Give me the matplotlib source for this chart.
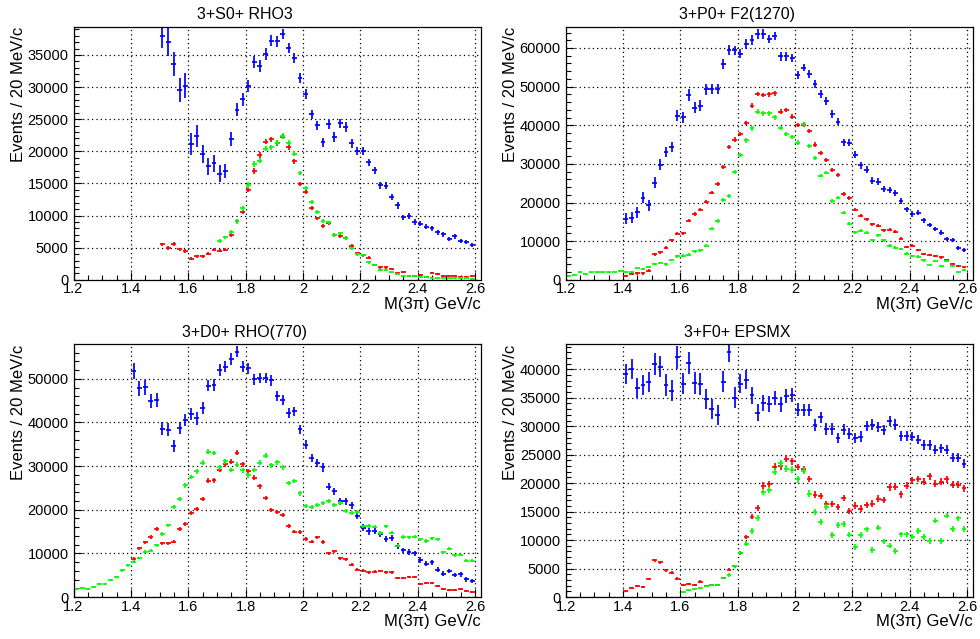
import numpy as np
import matplotlib
matplotlib.use("Agg")
import matplotlib.pyplot as plt
from matplotlib.ticker import MultipleLocator, FixedLocator

plt.rcParams['font.family'] = ['Liberation Sans', 'DejaVu Sans']

# bin centres, 20 MeV bins
def centres(start, stop):
    return np.round(np.arange(start, stop + 0.001, 0.02), 2)

titles = ['3+S0+ RHO3', '3+P0+ F2(1270)', '3+D0+ RHO(770)', '3+F0+ EPSMX']
ytops = [39400, 65500, 57900, 44400]
ymajor = [5000, 10000, 10000, 5000]
yminor = [1000, 2000, 2000, 1000]
xtick_vals = [1.2, 1.4, 1.6, 1.8, 2.0, 2.2, 2.4, 2.6]
xtick_labels = ['1.2', '1.4', '1.6', '1.8', '2', '2.2', '2.4', '2.6']

# ---- 3+S0+ RHO3
blue1_x = centres(1.51, 2.59)
blue1 = [37950, 36970, 33590, 29590, 30220, 21130, 22430, 19570, 17650, 18120,
         16510, 16980, 21910, 26480, 28090, 30170, 33850, 33230, 35150, 37230,
         37120, 38270, 36080, 34580, 31410, 28920, 25750, 24040, 21390, 24190,
         22270, 24350, 23830, 21290, 20040, 20090, 18280, 17030, 14750, 14640,
         12880, 11580, 9710, 9920, 8980, 8720, 8260, 8050, 7370, 7060,
         6330, 6750, 6020, 5870, 5450]
blue1_err = [1900, 2200, 1900, 1900, 1900, 1700, 1700, 1400, 1300, 1300,
             1300, 1100, 1100, 1000, 1000, 1000, 950, 950, 900, 900,
             900, 800, 800, 800, 800, 800, 750, 750, 750, 750,
             750, 750, 750, 700, 650, 650, 600, 600, 550, 550,
             500, 500, 450, 450, 420, 400, 400, 400, 380, 380,
             350, 350, 330, 330, 320]
red1_x = centres(1.51, 2.59)
red1 = [5500, 4980, 5560, 4720, 4470, 3270, 3630, 3690, 4050, 4670,
        4520, 4670, 7010, 9090, 10590, 14020, 16930, 19420, 21490, 21860,
        21290, 22270, 20660, 18430, 14900, 13710, 11210, 9550, 8410, 8830,
        6960, 6800, 6540, 5300, 4150, 3790, 3430, 2280, 1920, 1920,
        1660, 990, 1190, 670, 670, 730, 420, 1090, 880, 570,
        670, 670, 470, 470, 570]
red1_err = [300, 300, 300, 300, 300, 250, 250, 250, 250, 250,
            250, 250, 300, 300, 350, 350, 400, 400, 400, 400,
            400, 400, 400, 400, 350, 350, 350, 300, 300, 300,
            300, 300, 300, 250, 250, 250, 250, 200, 200, 200,
            200, 150, 150, 150, 150, 150, 150, 150, 150, 150,
            150, 150, 150, 150, 150]
green1_x = centres(1.71, 2.59)
green1 = [6070, 6590, 7420, 9090, 11110, 14750, 18020, 18540, 20400, 20660,
          21340, 22380, 21340, 19630, 16610, 14330, 12100, 10540, 9140, 8930,
          7010, 7220, 6540, 4930, 4000, 3840, 2700, 2280, 1560, 1510,
          1140, 880, 620, 620, 570, 420, 420, 310, 360, 310,
          210, 260, 210, 260, 160]
green1_err = [300, 300, 300, 350, 350, 400, 400, 400, 400, 400,
              400, 400, 400, 400, 350, 350, 350, 300, 300, 300,
              300, 300, 300, 250, 250, 250, 200, 200, 200, 200,
              150, 150, 150, 150, 150, 150, 150, 150, 150, 150,
              150, 150, 150, 150, 150]

# ---- 3+P0+ F2(1270)
blue2_x = centres(1.41, 2.59)
blue2 = [15770, 16030, 17500, 21210, 19310, 25170, 29740, 33100, 34390, 42500,
         42070, 47840, 44570, 45080, 49310, 49390, 49310, 55770, 59480, 59390,
         58530, 61030, 62060, 63620, 63620, 62320, 63100, 57840, 57840, 57410,
         52930, 54910, 53270, 50690, 48010, 46290, 42930, 40950, 35600, 35510,
         32330, 29650, 28530, 25690, 25430, 23450, 23270, 22500, 20430, 18270,
         17070, 17410, 15430, 14140, 13190, 12240, 10520, 10340, 8190, 7670]
blue2_err = [1400, 1400, 1400, 1400, 1400, 1400, 1400, 1400, 1400, 1400,
             1400, 1500, 1500, 1400, 1400, 1300, 1300, 1300, 1300, 1200,
             1200, 1200, 1200, 1200, 1200, 1100, 1100, 1100, 1100, 1100,
             1000, 1000, 1000, 1000, 1000, 1000, 950, 950, 900, 900,
             900, 850, 850, 800, 800, 800, 750, 750, 700, 700,
             700, 650, 650, 600, 600, 600, 550, 550, 500, 500]
red2_x = centres(1.41, 2.59)
red2 = [1030, 1470, 1640, 1640, 2410, 6640, 7070, 8360, 10260, 11980,
        12070, 15260, 17070, 18190, 20260, 22580, 24830, 29220, 34390, 36290,
        37760, 40510, 45080, 48100, 47840, 48010, 48270, 43530, 43960, 42240,
        40000, 40170, 38530, 35000, 32930, 31030, 28360, 27150, 22150, 21120,
        18190, 16640, 15690, 14400, 14050, 12840, 13020, 12500, 10690, 8530,
        8880, 7760, 6640, 6380, 6120, 5780, 5170, 4220, 3620, 3190]
red2_err = [300, 300, 300, 300, 300, 350, 350, 350, 400, 400,
            400, 400, 450, 450, 450, 450, 500, 500, 550, 550,
            550, 550, 600, 600, 600, 600, 600, 600, 600, 600,
            550, 550, 550, 550, 500, 500, 500, 500, 450, 450,
            400, 400, 400, 400, 400, 350, 350, 350, 350, 350,
            300, 300, 300, 300, 300, 300, 250, 250, 250, 250]
green2_x = centres(1.21, 2.59)
green2 = [1030, 1290, 1900, 1380, 1900, 1900, 1900, 2070, 2070, 2240,
          2070, 1980, 2930, 2760, 3360, 4050, 4400, 3970, 5170, 6120,
          6210, 6550, 7330, 7670, 8790, 13270, 15260, 20600, 21720, 27840,
          32330, 36120, 39220, 43530, 43100, 43100, 42070, 39220, 37670, 36890,
          35510, 40260, 34570, 31550, 26980, 27760, 20340, 21290, 17330, 14570,
          12330, 12760, 12240, 10340, 11550, 10260, 8790, 8280, 7930, 6810,
          6210, 6030, 5000, 3710, 4830, 3450, 4830, 3620, 1900, 2500]
green2_err = [200, 200, 200, 200, 200, 200, 200, 200, 200, 200,
              250, 250, 250, 250, 300, 300, 300, 300, 300, 350,
              350, 350, 350, 350, 350, 450, 450, 500, 500, 550,
              550, 600, 600, 600, 600, 600, 600, 550, 550, 550,
              550, 550, 550, 500, 500, 500, 450, 450, 400, 400,
              400, 400, 400, 350, 350, 350, 350, 350, 300, 300,
              300, 300, 300, 250, 250, 250, 250, 250, 200, 200]

# ---- 3+D0+ RHO(770)
blue3_x = centres(1.41, 2.59)
blue3 = [51760, 47790, 48020, 44960, 45120, 38550, 38320, 34660, 38780, 40540,
         41990, 40920, 43280, 48400, 48550, 51990, 52750, 54510, 56190, 52750,
         52370, 49850, 50230, 50230, 49620, 45960, 45190, 42140, 42520, 38400,
         34890, 31830, 30770, 29700, 25270, 24200, 21910, 21990, 20990, 18550,
         15880, 15040, 15120, 14430, 13360, 13510, 11760, 10690, 10380, 10000,
         8470, 7630, 7940, 6260, 5340, 5950, 5040, 5190, 4050, 3660]
blue3_err = [1800, 1700, 1700, 1600, 1600, 1500, 1500, 1400, 1400, 1400,
             1400, 1400, 1400, 1300, 1300, 1300, 1300, 1300, 1250, 1250,
             1250, 1200, 1200, 1200, 1200, 1150, 1150, 1100, 1100, 1050,
             1000, 950, 950, 950, 850, 850, 800, 800, 800, 750,
             750, 750, 700, 700, 700, 650, 650, 650, 650, 600,
             600, 600, 600, 550, 550, 550, 550, 500, 500, 500]
red3_x = centres(1.41, 2.59)
red3 = [8780, 11150, 12520, 13820, 15650, 12290, 12290, 12670, 15650, 16790,
        19310, 20230, 22440, 26640, 26720, 29160, 30380, 30990, 33050, 30380,
        28780, 27330, 25340, 22670, 20000, 19470, 18860, 16180, 14960, 14890,
        13280, 12670, 13660, 12600, 10000, 10530, 8930, 8630, 7400, 6260,
        6030, 5650, 5800, 5950, 5650, 5650, 4350, 4430, 4500, 4660,
        3050, 3210, 3280, 2440, 1760, 1680, 1600, 1760, 1450, 1070]
red3_err = [400, 400, 400, 450, 450, 400, 400, 400, 450, 450,
            500, 500, 500, 550, 550, 550, 550, 600, 600, 550,
            550, 550, 500, 500, 500, 450, 450, 450, 400, 400,
            400, 400, 400, 400, 350, 350, 350, 350, 300, 300,
            300, 300, 300, 300, 300, 300, 250, 250, 250, 250,
            250, 250, 250, 200, 200, 200, 200, 200, 200, 200]
green3_x = centres(1.21, 2.59)
green3 = [1830, 2140, 1910, 2370, 2900, 3050, 3890, 4500, 6110, 7250,
          8090, 8930, 10380, 10610, 11830, 14430, 16410, 20610, 22370, 25570,
          27480, 28780, 30770, 33280, 32980, 29700, 31070, 29090, 30310, 29010,
          27860, 29090, 30770, 32370, 30150, 30840, 29700, 26180, 26640, 23740,
          20760, 20610, 21070, 21450, 21910, 21070, 21450, 19770, 19240, 19470,
          16180, 16260, 16110, 14660, 16180, 14730, 11760, 13740, 13660, 13820,
          13210, 12830, 13510, 13210, 10230, 11070, 9540, 9620, 8320, 8320]
green3_err = [200, 200, 200, 200, 200, 250, 250, 250, 300, 300,
              300, 300, 350, 350, 350, 400, 400, 450, 450, 500,
              500, 550, 550, 550, 550, 550, 550, 550, 550, 550,
              550, 550, 550, 550, 550, 550, 550, 500, 500, 500,
              450, 450, 450, 450, 450, 450, 450, 450, 450, 450,
              400, 400, 400, 400, 400, 400, 350, 400, 400, 400,
              350, 350, 350, 350, 350, 350, 300, 300, 300, 300]

# ---- 3+F0+ EPSMX
blue4_x = centres(1.41, 2.59)
blue4 = [39200, 40080, 36680, 37210, 37800, 40960, 40490, 37210, 36270, 42130,
         37500, 41080, 37560, 37390, 34750, 33050, 32000, 37860, 43130, 35040,
         37500, 38210, 35450, 32410, 34050, 33870, 34980, 33870, 35340, 35510,
         32930, 32870, 32820, 30240, 31590, 29530, 29530, 27950, 29360, 28710,
         27950, 28190, 30000, 30300, 29890, 29360, 30940, 30300, 28250, 28250,
         28190, 27660, 26660, 26720, 25900, 26140, 25900, 24490, 24490, 23440]
blue4_err = [1800, 1800, 1800, 1800, 1800, 1900, 1900, 1900, 1900, 2000,
             1900, 1900, 1900, 1900, 1800, 1800, 1800, 1800, 1800, 1800,
             1700, 1600, 1500, 1500, 1400, 1400, 1300, 1300, 1200, 1200,
             1100, 1100, 1100, 1000, 1000, 1000, 1000, 950, 950, 950,
             950, 950, 900, 900, 900, 900, 900, 900, 900, 900,
             850, 850, 850, 850, 850, 800, 800, 800, 800, 800]
red4_x = centres(1.41, 2.59)
red4 = [1050, 1640, 1930, 1820, 3160, 6450, 6090, 4690, 4280, 3220,
        2170, 2290, 2170, 2700, 1990, 2050, 2170, 3340, 4810, 5390,
        7740, 10550, 14120, 15650, 19570, 19870, 22910, 22970, 24320, 23850,
        22850, 22440, 20740, 17990, 17700, 16350, 16350, 15760, 17350, 15120,
        16060, 15530, 16120, 16410, 17290, 17050, 19280, 19400, 18050, 19570,
        20510, 20740, 20280, 21210, 19920, 20280, 20690, 19750, 19750, 19100]
red4_err = [200, 200, 200, 200, 250, 300, 300, 300, 300, 250,
            200, 200, 200, 250, 200, 200, 200, 250, 300, 300,
            350, 400, 450, 500, 550, 550, 600, 600, 600, 600,
            600, 600, 600, 550, 550, 550, 550, 550, 550, 550,
            550, 550, 550, 550, 550, 600, 600, 600, 600, 600,
            600, 600, 600, 600, 600, 650, 650, 650, 650, 650]
green4_x = centres(1.61, 2.59)
green4 = [940, 1230, 1470, 1640, 1880, 2110, 2170, 3340, 3870, 5390,
          7680, 9380, 11600, 13830, 18400, 18810, 21980, 23500, 22560, 22390,
          20690, 22210, 18170, 15000, 13130, 15760, 10960, 12600, 12770, 10960,
          8790, 10840, 11900, 8200, 12190, 9790, 9020, 8090, 11020, 11020,
          10610, 11600, 10550, 9840, 13420, 9840, 14300, 11900, 13830, 12010]
green4_err = [150, 150, 150, 150, 200, 200, 200, 250, 300, 300,
              350, 400, 450, 500, 550, 550, 600, 600, 600, 600,
              600, 600, 550, 550, 550, 550, 550, 500, 500, 500,
              450, 500, 450, 500, 450, 450, 450, 450, 450, 450,
              450, 450, 450, 500, 450, 500, 450, 500, 450, 500]

panels = [
    [(blue1_x, blue1, blue1_err, 'blue'), (red1_x, red1, red1_err, 'red'), (green1_x, green1, green1_err, 'lime')],
    [(blue2_x, blue2, blue2_err, 'blue'), (red2_x, red2, red2_err, 'red'), (green2_x, green2, green2_err, 'lime')],
    [(blue3_x, blue3, blue3_err, 'blue'), (red3_x, red3, red3_err, 'red'), (green3_x, green3, green3_err, 'lime')],
    [(blue4_x, blue4, blue4_err, 'blue'), (red4_x, red4, red4_err, 'red'), (green4_x, green4, green4_err, 'lime')],
]

fig = plt.figure(figsize=(9.8, 6.39), dpi=100)
boxes = [[0.0750, 0.5621, 0.4155, 0.3961],
         [0.5772, 0.5621, 0.4153, 0.3961],
         [0.0750, 0.0657, 0.4155, 0.3955],
         [0.5772, 0.0657, 0.4153, 0.3955]]

for i in range(4):
    ax = fig.add_axes(boxes[i])
    for x, y, e, c in panels[i]:
        ax.errorbar(x, y, yerr=e, xerr=0.0085, fmt='none', ecolor=c,
                    elinewidth=1.25, capsize=0)
    ax.set_xlim(1.2, 2.62)
    ax.set_ylim(0, ytops[i])
    ax.xaxis.set_major_locator(FixedLocator(xtick_vals))
    ax.set_xticklabels(xtick_labels)
    ax.xaxis.set_minor_locator(MultipleLocator(0.05))
    ax.yaxis.set_major_locator(MultipleLocator(ymajor[i]))
    ax.yaxis.set_minor_locator(MultipleLocator(yminor[i]))
    ax.tick_params(which='both', direction='in', top=False, right=False,
                   labelsize=10.5, width=0.8, colors='black')
    ax.tick_params(which='major', length=6)
    ax.tick_params(which='minor', length=3.5)
    ax.tick_params(axis='x', which='major', pad=1.8)
    ax.tick_params(axis='y', which='major', pad=3.5)
    ax.grid(True, which='major', color='black', linestyle=(0, (1, 2.5)), linewidth=0.9)
    for s in ax.spines.values():
        s.set_linewidth(0.9)
    # titles sit over the middle of the whole pad, not the frame
    ax.set_title(titles[i], fontsize=11.5, pad=5.5, x=0.421)
    ax.set_ylabel('Events / 20 MeV/c', fontsize=12, loc='top')
    ax.yaxis.set_label_coords(-0.117, 1.0)
    ax.set_xlabel('M(3\u03c0) GeV/c', fontsize=12, loc='right', labelpad=0.5)

fig.savefig('out.png', dpi=100)
